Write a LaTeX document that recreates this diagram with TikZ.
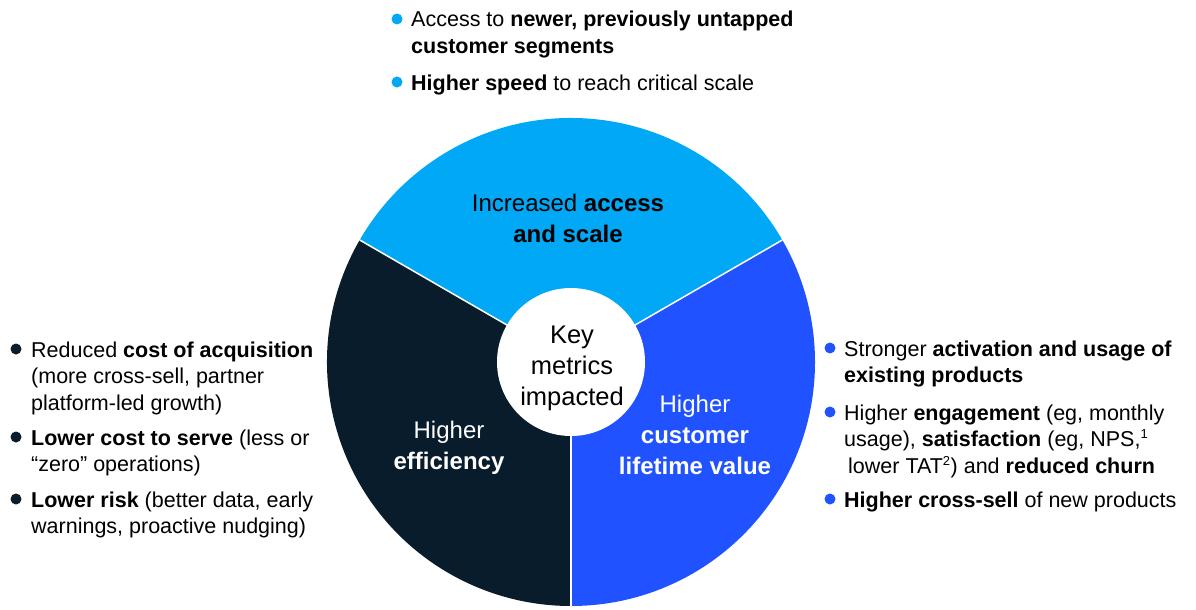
\documentclass[tikz,border=0pt]{standalone}
\usepackage{fontspec}
\setmainfont{Liberation Sans}
\usepackage{tikz}
\usetikzlibrary{positioning}
\definecolor{mcyan}{rgb}{0, 0.66, 0.96}
\definecolor{mblue}{rgb}{0.13, 0.32, 1}
\definecolor{mnavy}{rgb}{0.03, 0.11, 0.17}
\newcommand{\pointfont}{\fontsize{21.5}{26.5}\selectfont}
\newcommand{\wedgefont}{\fontsize{24}{31}\selectfont}
\newcommand{\pointlines}[1]{\begin{tabular}[t]{@{}l@{}}#1\end{tabular}}
\newcommand{\noteref}[1]{\textsuperscript{\fontsize{13}{13}\selectfont #1}}
\tikzset{pointtext/.style = {anchor=base west, inner sep=0pt, font=\pointfont},
         bulletdot/.style = {circle, inner sep=0pt, minimum size=11pt},
         wedgetext/.style = {align=center, inner sep=0pt, font=\wedgefont}}

\begin{document}
\begin{tikzpicture}[x=1pt, y=1pt]
    \useasboundingbox (0, 0) rectangle (1196, -610);
    \coordinate (hub) at (571, -362);

    \fill [mcyan] (hub) -- ++(30:244) arc [start angle=30, end angle=150, radius=244] -- cycle;
    \fill [mnavy] (hub) -- ++(150:244) arc [start angle=150, end angle=270, radius=244] -- cycle;
    \fill [mblue] (hub) -- ++(270:244) arc [start angle=270, end angle=390, radius=244] -- cycle;
    \foreach \a in {30, 150, 270}
        \draw [white, line width=1.5pt] (hub) -- ++(\a:244);

    \node [circle, fill=white, minimum size=148pt, inner sep=0pt] (core) at (hub) {};
    \node [wedgetext, font=\fontsize{25.5}{31}\selectfont] (corelabel) at (572, -368) {Key\\metrics\\impacted};

    \node [wedgetext] (scale) at (568, -218) {Increased \textbf{access}\\\textbf{and scale}};
    \node [wedgetext, white] (efficiency) at (449, -448) {Higher\\\textbf{efficiency}};
    \node [wedgetext, white] (lifetime) at (695, -435) {Higher\\\textbf{customer}\\\textbf{lifetime value}};

    % top points
    \node [pointtext] (access) at (411, -27) {\pointlines{Access to \textbf{newer, previously untapped}\\\textbf{customer segments}}};
    \node [pointtext] (speed) at (411, -90) {\pointlines{\textbf{Higher speed} to reach critical scale}};
    \node [bulletdot, fill=mcyan] (accessdot) at ([xshift=-14pt, yshift=8pt] access.base west) {};
    \node [bulletdot, fill=mcyan] (speeddot) at ([xshift=-14pt, yshift=8pt] speed.base west) {};

    % left points
    \node [pointtext] (acquisition) at (31, -357) {\pointlines{Reduced \textbf{cost of acquisition}\\(more cross-sell, partner\\platform-led growth)}};
    \node [pointtext] (serve) at (31, -445) {\pointlines{\textbf{Lower cost to serve} (less or\\“zero” operations)}};
    \node [pointtext] (risk) at (31, -507) {\pointlines{\textbf{Lower risk} (better data, early\\warnings, proactive nudging)}};
    \node [bulletdot, fill=mnavy] (acquisitiondot) at ([xshift=-15pt, yshift=8pt] acquisition.base west) {};
    \node [bulletdot, fill=mnavy] (servedot) at ([xshift=-15pt, yshift=8pt] serve.base west) {};
    \node [bulletdot, fill=mnavy] (riskdot) at ([xshift=-15pt, yshift=8pt] risk.base west) {};

    % right points
    \node [pointtext] (usage) at (844, -356) {\pointlines{Stronger \textbf{activation and usage of}\\\textbf{existing products}}};
    \node [pointtext] (engagement) at (844, -420) {\pointlines{Higher \textbf{engagement} (eg, monthly\\usage), \textbf{satisfaction} (eg, NPS,\noteref{1}\\\hspace{4pt}lower TAT\noteref{2}) and \textbf{reduced churn}}};
    \node [pointtext] (crosssell) at (844, -507) {\pointlines{\textbf{Higher cross-sell} of new products}};
    \node [bulletdot, fill=mblue] (usagedot) at ([xshift=-14pt, yshift=8pt] usage.base west) {};
    \node [bulletdot, fill=mblue] (engagementdot) at ([xshift=-14pt, yshift=8pt] engagement.base west) {};
    \node [bulletdot, fill=mblue] (crossselldot) at ([xshift=-14pt, yshift=8pt] crosssell.base west) {};
\end{tikzpicture}
\end{document}
